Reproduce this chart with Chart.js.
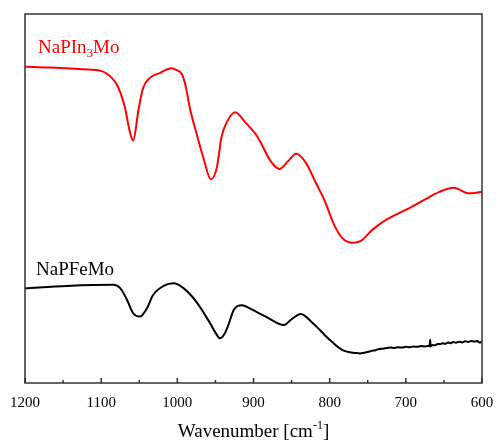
<!DOCTYPE html>
<html>
<head>
<meta charset="utf-8">
<script src="https://cdn.jsdelivr.net/npm/chart.js@4/dist/chart.umd.min.js"></script>
<style>
    html, body { margin: 0; padding: 0; background: #fff; }
    #wrap { width: 496px; height: 445px; }
</style>
</head>
<body>
<div id="wrap"><canvas id="irChart" width="496" height="445"></canvas></div>
<script>
// IR spectra, transmittance in arbitrary units
const inWavenumbers = [1200, 1167, 1124, 1101, 1093, 1078, 1069, 1062, 1058, 1051, 1045, 1036, 1023, 1008, 1001, 994, 990, 983, 975, 966, 956, 948, 942, 935, 924, 911, 895, 877, 866, 855, 844, 831, 818, 807, 794, 783, 770, 759, 744, 726, 700, 676, 656, 637, 617, 600];
const inValues = [85.7, 85.5, 85.0, 84.6, 83.9, 80.3, 74.8, 67.8, 65.7, 74.0, 79.9, 82.7, 84.0, 85.3, 84.8, 83.7, 81.3, 74.0, 67.8, 61.2, 55.2, 58.5, 66.7, 70.7, 73.4, 70.7, 66.8, 60.0, 58.0, 60.0, 62.1, 59.6, 54.2, 49.6, 42.8, 39.2, 38.0, 38.5, 41.5, 44.2, 46.9, 49.6, 51.8, 52.9, 51.4, 51.8];

const feWavenumbers = [1200, 1145, 1084, 1075, 1066, 1058, 1049, 1040, 1032, 1018, 1005, 992, 975, 957, 949, 944, 939, 933, 926, 915, 905, 884, 860, 851, 838, 822, 800, 783, 765, 760, 755, 750, 745, 740, 735, 730, 725, 720, 715, 710, 705, 700, 695, 690, 685, 680, 675, 670, 669, 668, 667.5, 666, 662, 658, 655, 652, 648, 645, 641, 638, 634, 630, 626, 622, 618, 614, 610, 606, 603, 600];
const feValues = [25.7, 26.3, 26.6, 25.7, 22.5, 18.9, 18.0, 20.2, 23.8, 26.3, 27.0, 25.7, 22.0, 16.2, 13.3, 12.1, 13.0, 15.7, 19.8, 21.1, 20.2, 18.0, 15.7, 17.1, 18.7, 16.2, 11.7, 8.9, 8.1, 8.0, 8.2, 8.4, 8.7, 8.9, 9.2, 9.3, 9.5, 9.6, 9.5, 9.7, 9.6, 9.8, 9.7, 9.9, 9.8, 10.0, 9.9, 10.1, 10.0, 11.7, 9.9, 10.3, 10.2, 10.6, 10.5, 10.8, 10.6, 11.0, 10.8, 11.1, 10.9, 11.2, 11.0, 11.3, 11.1, 11.4, 11.2, 11.4, 11.0, 11.2];

const xMajorTicks = [1200, 1100, 1000, 900, 800, 700, 600];
const xMinorTicks = [1150, 1050, 950, 850, 750, 650];

const seriesNames = ['NaPIn3Mo', 'NaPFeMo'];
const seriesColors = ['#ff0000', '#000000'];

const SERIF = '"Liberation Serif", "Times New Roman", serif';

function toPoints(xs, ys) {
    return xs.map((x, i) => ({ x: x, y: ys[i] }));
}

// frame, inward ticks, series labels and axis title
const framePlugin = {
    id: 'frame',
    afterDraw(chart) {
        const { ctx, chartArea: a, scales } = chart;
        const xs = scales.x;
        ctx.save();

        ctx.strokeStyle = '#333';
        ctx.lineWidth = 1.5;
        ctx.strokeRect(a.left, a.top, a.right - a.left, a.bottom - a.top);

        ctx.beginPath();
        xMajorTicks.forEach(v => {
            const px = xs.getPixelForValue(v);
            ctx.moveTo(px, a.bottom);
            ctx.lineTo(px, a.bottom - 5);
        });
        xMinorTicks.forEach(v => {
            const px = xs.getPixelForValue(v);
            ctx.moveTo(px, a.bottom);
            ctx.lineTo(px, a.bottom - 3);
        });
        ctx.stroke();

        // series labels
        ctx.textBaseline = 'alphabetic';
        ctx.textAlign = 'left';
        ctx.font = '19px ' + SERIF;
        ctx.fillStyle = seriesColors[0];
        let x = 38;
        const y1 = 53;
        ctx.fillText('NaPIn', x, y1);
        x += ctx.measureText('NaPIn').width;
        ctx.font = '13px ' + SERIF;
        ctx.fillText('3', x, y1 + 4);
        x += ctx.measureText('3').width;
        ctx.font = '19px ' + SERIF;
        ctx.fillText('Mo', x, y1);

        ctx.fillStyle = seriesColors[1];
        ctx.fillText(seriesNames[1], 36, 275);

        // axis title with superscript
        ctx.fillStyle = '#000';
        const main = 'Wavenumber [cm';
        const sup = '-1';
        const tail = ']';
        ctx.font = '19px ' + SERIF;
        const wMain = ctx.measureText(main).width;
        const wTail = ctx.measureText(tail).width;
        ctx.font = '12px ' + SERIF;
        const wSup = ctx.measureText(sup).width;
        let tx = (a.left + a.right) / 2 - (wMain + wSup + wTail) / 2;
        const ty = 437;
        ctx.font = '19px ' + SERIF;
        ctx.fillText(main, tx, ty);
        tx += wMain;
        ctx.font = '12px ' + SERIF;
        ctx.fillText(sup, tx, ty - 8);
        tx += wSup;
        ctx.font = '19px ' + SERIF;
        ctx.fillText(tail, tx, ty);

        ctx.restore();
    }
};

document.addEventListener('DOMContentLoaded', () => {
    const ctx = document.getElementById('irChart').getContext('2d');

    new Chart(ctx, {
        type: 'line',
        data: {
            datasets: [
                {
                    label: seriesNames[0],
                    data: toPoints(inWavenumbers, inValues),
                    borderColor: seriesColors[0],
                    borderWidth: 2,
                    pointRadius: 0,
                    cubicInterpolationMode: 'monotone',
                    fill: false
                },
                {
                    label: seriesNames[1],
                    data: toPoints(feWavenumbers, feValues),
                    borderColor: seriesColors[1],
                    borderWidth: 2,
                    pointRadius: 0,
                    cubicInterpolationMode: 'monotone',
                    fill: false
                }
            ]
        },
        options: {
            responsive: false,
            animation: false,
            devicePixelRatio: 1,
            layout: { padding: { left: 25, right: 14, top: 14, bottom: 0 } },
            plugins: {
                legend: { display: false },
                tooltip: { enabled: false }
            },
            scales: {
                x: {
                    type: 'linear',
                    reverse: true,
                    min: 600,
                    max: 1200,
                    afterBuildTicks: scale => {
                        scale.ticks = xMajorTicks.map(v => ({ value: v }));
                    },
                    afterFit: scale => {
                        scale.height = 62;
                        // labels may overhang the frame at both ends
                        scale.paddingLeft = 0;
                        scale.paddingRight = 0;
                    },
                    grid: { display: false, drawTicks: false },
                    border: { display: false },
                    ticks: {
                        padding: 11,
                        color: '#000',
                        font: { family: SERIF, size: 15 },
                        maxRotation: 0,
                        callback: v => String(v)
                    }
                },
                y: {
                    display: false,
                    min: 0,
                    max: 100
                }
            }
        },
        plugins: [framePlugin]
    });
});
</script>
</body>
</html>
